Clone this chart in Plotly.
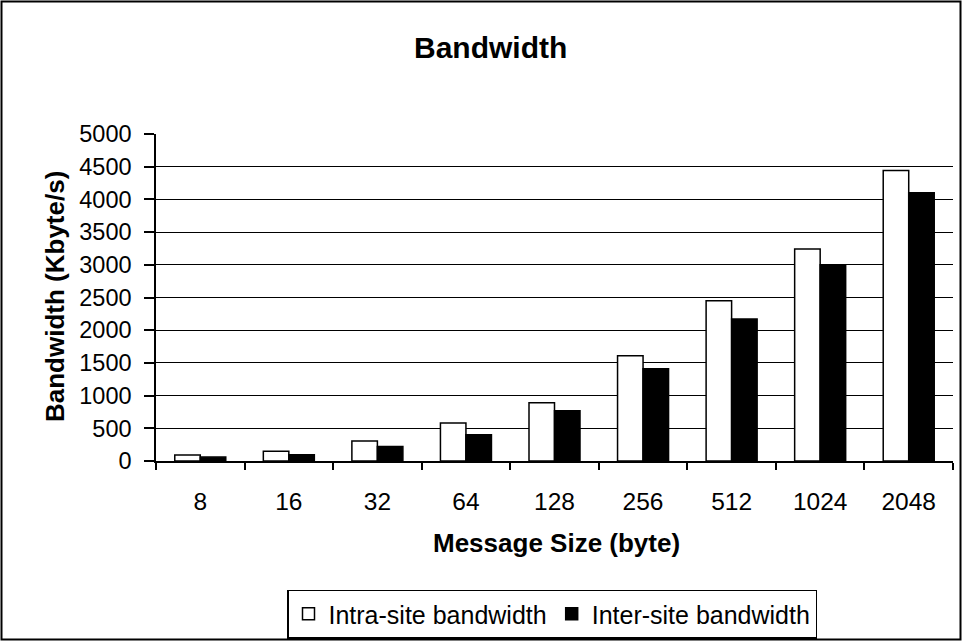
import plotly.graph_objects as go

# Message sizes (bytes) and measured bandwidth (Kbyte/s)
message_sizes = ["8", "16", "32", "64", "128", "256", "512", "1024", "2048"]
intra_site = [90, 150, 305, 580, 890, 1610, 2450, 3240, 4440]
inter_site = [60, 95, 220, 400, 770, 1410, 2170, 3000, 4100]
y_ticks = [0, 500, 1000, 1500, 2000, 2500, 3000, 3500, 4000, 4500, 5000]

W, H = 962, 641
ML, MR, MT, MB = 156, 9, 134, 180

FONT = "Liberation Sans, Arial, sans-serif"

fig = go.Figure()
fig.add_trace(go.Bar(
    x=message_sizes, y=intra_site, name="Intra-site bandwidth",
    marker=dict(color="white", line=dict(color="black", width=1.5)),
))
fig.add_trace(go.Bar(
    x=message_sizes, y=inter_site, name="Inter-site bandwidth",
    marker=dict(color="black", line=dict(color="black", width=1.5)),
))

pw = W - ML - MR
ph = H - MT - MB


def px_x(p):
    return (p - ML) / pw


def px_y(p):
    return (H - MB - p) / ph


# outer chart frame
fig.add_shape(type="rect", xref="paper", yref="paper",
              x0=px_x(1.5), x1=px_x(960.5), y0=px_y(639.5), y1=px_y(1.5),
              line=dict(color="black", width=2), fillcolor="rgba(0,0,0,0)",
              layer="below")

# chart title and axis titles
fig.add_annotation(text="<b>Bandwidth</b>", xref="paper", yref="paper",
                   x=px_x(490), y=px_y(47), xanchor="center", yanchor="middle",
                   showarrow=False, font=dict(size=30))
fig.add_annotation(text="<b>Message Size (byte)</b>", xref="paper", yref="paper",
                   x=px_x(556), y=px_y(543), xanchor="center", yanchor="middle",
                   showarrow=False, font=dict(size=26))
fig.add_annotation(text="<b>Bandwidth (Kbyte/s)</b>", xref="paper", yref="paper",
                   x=px_x(55), y=px_y(297), xanchor="center", yanchor="middle",
                   textangle=-90, showarrow=False, font=dict(size=26))

fig.update_layout(
    width=W, height=H,
    margin=dict(l=ML, r=MR, t=MT, b=MB, autoexpand=False),
    paper_bgcolor="white", plot_bgcolor="white",
    barmode="group", bargap=0.424, bargroupgap=0,
    font=dict(family=FONT, color="black", size=24),
    xaxis=dict(
        type="category", tickson="boundaries",
        showline=True, linecolor="black", linewidth=1.5,
        ticks="outside", ticklen=7, tickcolor="black", tickwidth=1.5,
        showgrid=False, zeroline=False,
        tickfont=dict(size=24.5), ticklabelstandoff=18,
    ),
    yaxis=dict(
        range=[0, 5000], tickvals=y_ticks,
        showline=True, linecolor="black", linewidth=1.5,
        ticks="outside", ticklen=10, tickcolor="black", tickwidth=1.5,
        showgrid=True, gridcolor="black", gridwidth=1,
        zeroline=False, tickfont=dict(size=23.5), ticklabelstandoff=8,
    ),
    legend=dict(
        orientation="h", x=px_x(552), xanchor="center",
        y=px_y(614), yanchor="middle",
        bordercolor="black", borderwidth=1.5, bgcolor="white",
        font=dict(size=25), itemwidth=30,
        traceorder="normal",
    ),
)

fig.write_html("out.html")
